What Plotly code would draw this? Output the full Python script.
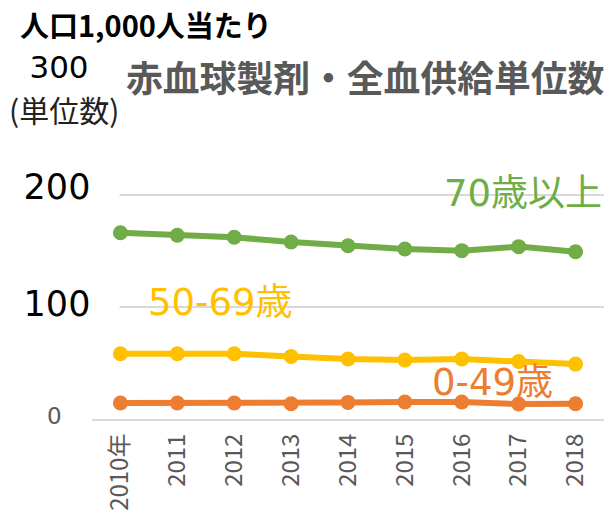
import plotly.graph_objects as go

# ---- data ----
years = ["2010年", "2011", "2012", "2013", "2014", "2015", "2016", "2017", "2018"]
age_70_plus = [166.0, 163.7, 161.9, 157.7, 154.4, 151.5, 150.0, 153.6, 149.1]
age_50_69 = [58.1, 58.1, 58.1, 55.7, 53.4, 52.5, 53.4, 51.2, 48.9]
age_0_49 = [14.2, 14.2, 14.2, 13.6, 14.8, 15.1, 15.1, 13.3, 13.6]
y_tick_values = [0, 100, 200, 300]
y_tick_labels = ["0", "100", "200", "300"]
series_names = ["70歳以上", "50-69歳", "0-49歳"]
title_text = "赤血球製剤・全血供給単位数"
unit_text = "人口1,000人当たり"
unit_sub = "(単位数)"

# ---- layout geometry (screen pixels; page body has an 8px margin) ----
OFF = 8
W, H = 615 - OFF, 519 - OFF
L, R = 91.5, 604.5
T, B = 82.0, 419.3
PW, PH = R - L, B - T


def px(x):
    return (x - L) / PW


def py(y):
    return (B - y) / PH


FONT = "Noto Sans CJK JP"
NUMFONT = "DejaVu Sans, Noto Sans CJK JP"
GREEN = "#70AD47"
YELLOW = "#FFC000"
ORANGE = "#ED7D31"
GRAY = "#595959"

fig = go.Figure()
for vals, color in [(age_70_plus, GREEN), (age_50_69, YELLOW), (age_0_49, ORANGE)]:
    fig.add_trace(go.Scatter(
        x=list(range(len(years))), y=vals, mode="lines+markers",
        line=dict(color=color, width=6),
        marker=dict(color=color, size=15),
        cliponaxis=False, showlegend=False, hoverinfo="skip",
    ))

annotations = []
# y axis labels (custom text boxes)
y_label_style = {
    "0": dict(size=23, color=GRAY, shift=3, cx=54, bg=None),
    "100": dict(size=35, color="#000000", shift=3, cx=56, bg="white"),
    "200": dict(size=35, color="#000000", shift=8, cx=56, bg="white"),
    "300": dict(size=31, color="#000000", shift=15, cx=58, bg="white"),
}
for v, t in zip(y_tick_values, y_tick_labels):
    st = y_label_style[t]
    a = dict(x=px(st["cx"]), xref="paper", y=v, yref="y", text=t,
             showarrow=False, xanchor="center", yanchor="middle",
             yshift=st["shift"],
             font=dict(family=NUMFONT, size=st["size"], color=st["color"]))
    if st["bg"]:
        a.update(bgcolor="white", width=2 * (118 - st["cx"]), borderpad=0)
    annotations.append(a)

annotations += [
    dict(x=px(17), y=py(24), xref="paper", yref="paper", text="<b>" + unit_text + "</b>",
         showarrow=False, xanchor="left", yanchor="middle",
         font=dict(family=FONT, size=29, color="#000000")),
    dict(x=px(63), y=py(109), xref="paper", yref="paper", text=unit_sub,
         showarrow=False, xanchor="center", yanchor="middle",
         font=dict(family=FONT, size=30, color="#222222")),
    dict(x=px(124), y=py(76), xref="paper", yref="paper", text="<b>" + title_text + "</b>",
         showarrow=False, xanchor="left", yanchor="middle",
         font=dict(family=FONT, size=36.8, color=GRAY)),
    dict(x=px(604), y=py(194), xref="paper", yref="paper", text=series_names[0],
         showarrow=False, xanchor="right", yanchor="middle",
         font=dict(family=NUMFONT, size=37, color=GREEN)),
    dict(x=px(146), y=py(303), xref="paper", yref="paper", text=series_names[1],
         showarrow=False, xanchor="left", yanchor="middle",
         font=dict(family=NUMFONT, size=37, color=YELLOW)),
    dict(x=px(555), y=py(383), xref="paper", yref="paper", text=series_names[2],
         showarrow=False, xanchor="right", yanchor="middle",
         font=dict(family=NUMFONT, size=37, color=ORANGE)),
]

fig.update_layout(
    width=W, height=H,
    margin=dict(l=L - OFF, r=(615 - R), t=T - OFF, b=519 - B, pad=0, autoexpand=False),
    paper_bgcolor="white", plot_bgcolor="white",
    font=dict(family=FONT),
    annotations=annotations,
    xaxis=dict(
        range=[-0.5, len(years) - 0.5], automargin=False,
        tickmode="array", tickvals=list(range(len(years))), ticktext=years,
        tickangle=-90, tickfont=dict(family=FONT, size=24, color=GRAY),
        showgrid=False, zeroline=False,
        showline=True, linecolor="#D9D9D9", linewidth=2,
        ticks="", ticklabelstandoff=3,
    ),
    yaxis=dict(
        range=[0, 300.3], tickmode="array", tickvals=y_tick_values, automargin=False,
        showticklabels=False, showgrid=True, gridcolor="#D9D9D9", gridwidth=1.5,
        zeroline=False, showline=False, ticks="",
    ),
)

fig.write_html("out.html")
